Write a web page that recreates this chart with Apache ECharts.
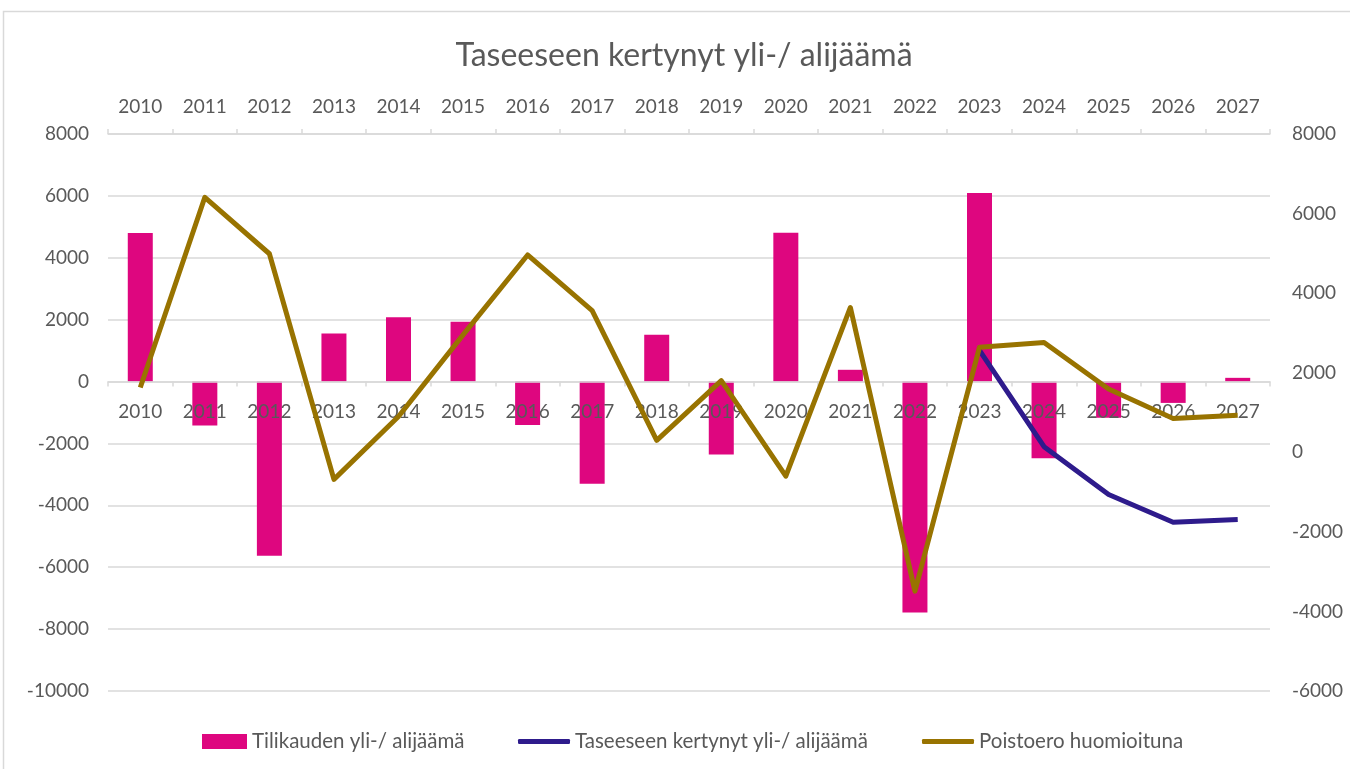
<!DOCTYPE html>
<html>
<head>
<meta charset="utf-8">
<script src="https://cdn.jsdelivr.net/npm/echarts@6/dist/echarts.min.js"></script>
<style>
html,body{margin:0;padding:0;background:#fff;}
#chart{width:1350px;height:769px;}
</style>
</head>
<body>
<div id="chart"></div>
<script>
var categories = ['2010','2011','2012','2013','2014','2015','2016','2017','2018','2019','2020','2021','2022','2023','2024','2025','2026','2027'];
var tilikausi = [4800, -1420, -5630, 1550, 2080, 1930, -1400, -3300, 1510, -2360, 4810, 380, -7460, 6090, -2480, -1170, -690, 120];
var kertynyt = [null, null, null, null, null, null, null, null, null, null, null, null, null, 2560, 140, -1060, -1760, -1690];
var poistoero = [1630, 6410, 4990, -680, 900, 2950, 4960, 3560, 300, 1800, -600, 3640, -3490, 2640, 2760, 1590, 850, 930];
var leftTicks = {min: -10000, max: 8000, interval: 2000};
var rightTicks = {min: -6000, max: 8000, interval: 2000};

var FONT = 'Lato';
var GREY = '#595959';
var LINEGREY = '#d9d9d9';
var PINK = '#DE067F';
var BLUE = '#2E1B8C';
var OLIVE = '#987300';

var GRID = {left: 108, right: 80, top: 134, bottom: 78};
var H = 769;
var gridHeight = H - GRID.top - GRID.bottom;
// distance of the value 0 above the grid bottom, from the left axis scale
var zeroOffset = -(0 - leftTicks.min) / (leftTicks.max - leftTicks.min) * gridHeight;

function plain(v) { return String(v); }

var chart = echarts.init(document.getElementById('chart'), null, {renderer: 'canvas'});
var legendText = {color: GREY, fontSize: 20.5, fontFamily: FONT};
chart.setOption({
  animation: false,
  backgroundColor: '#fff',
  title: {
    text: 'Taseeseen kertynyt yli-/ alijäämä',
    left: 679, textAlign: 'center', top: 35,
    textStyle: {color: GREY, fontSize: 32, fontWeight: 'normal', fontFamily: FONT}
  },
  graphic: [{
    type: 'polyline', silent: true,
    shape: {points: [[3.5, 800], [3.5, 11.5], [1400, 11.5]]},
    style: {stroke: LINEGREY, lineWidth: 1.5, fill: null}
  }],
  legend: [
    {data: ['Tilikauden yli-/ alijäämä'], left: 197, top: 726, itemWidth: 45, itemHeight: 15, icon: 'rect', textStyle: legendText},
    {data: ['Taseeseen kertynyt yli-/ alijäämä'], left: 513, top: 726, itemWidth: 52, itemHeight: 5, icon: 'roundRect', textStyle: legendText},
    {data: ['Poistoero huomioituna'], left: 917, top: 726, itemWidth: 52, itemHeight: 5, icon: 'roundRect', textStyle: legendText}
  ],
  grid: {left: GRID.left, right: GRID.right, top: GRID.top, bottom: GRID.bottom, containLabel: false},
  xAxis: [
    {
      type: 'category', data: categories, position: 'bottom', z: 3, offset: zeroOffset,
      axisLine: {onZero: false, lineStyle: {color: LINEGREY, width: 1.5}},
      axisTick: {show: true, inside: false, length: 5, lineStyle: {color: LINEGREY, width: 1.5}},
      axisLabel: {color: GREY, fontSize: 19, fontFamily: FONT, margin: 21},
      splitLine: {show: false}
    },
    {
      type: 'category', data: categories, position: 'top', z: 3,
      axisLine: {onZero: false, lineStyle: {color: LINEGREY, width: 1.5}},
      axisTick: {show: true, inside: false, length: 5, lineStyle: {color: LINEGREY, width: 1.5}},
      axisLabel: {color: GREY, fontSize: 19, fontFamily: FONT, margin: 18},
      splitLine: {show: false}
    }
  ],
  yAxis: [
    {
      type: 'value', position: 'left', min: leftTicks.min, max: leftTicks.max, interval: leftTicks.interval,
      axisLine: {show: false}, axisTick: {show: false},
      axisLabel: {color: GREY, fontSize: 19, fontFamily: FONT, margin: 19, formatter: plain},
      splitLine: {show: true, lineStyle: {color: LINEGREY, width: 1.5}}
    },
    {
      type: 'value', position: 'right', min: rightTicks.min, max: rightTicks.max, interval: rightTicks.interval,
      axisLine: {show: false}, axisTick: {show: false},
      axisLabel: {color: GREY, fontSize: 19, fontFamily: FONT, margin: 22, formatter: plain},
      splitLine: {show: false}
    }
  ],
  series: [
    {
      name: 'Tilikauden yli-/ alijäämä', type: 'bar', xAxisIndex: 0, yAxisIndex: 0,
      data: tilikausi, barWidth: 25, z: 2,
      itemStyle: {color: PINK}
    },
    {
      name: 'Taseeseen kertynyt yli-/ alijäämä', type: 'line', xAxisIndex: 1, yAxisIndex: 1,
      data: kertynyt, symbol: 'none', showSymbol: false, z: 4,
      lineStyle: {color: BLUE, width: 5, join: 'round'}, itemStyle: {color: BLUE}
    },
    {
      name: 'Poistoero huomioituna', type: 'line', xAxisIndex: 1, yAxisIndex: 1,
      data: poistoero, symbol: 'none', showSymbol: false, z: 5,
      lineStyle: {color: OLIVE, width: 5, join: 'round'}, itemStyle: {color: OLIVE}
    }
  ]
});
</script>
</body>
</html>
